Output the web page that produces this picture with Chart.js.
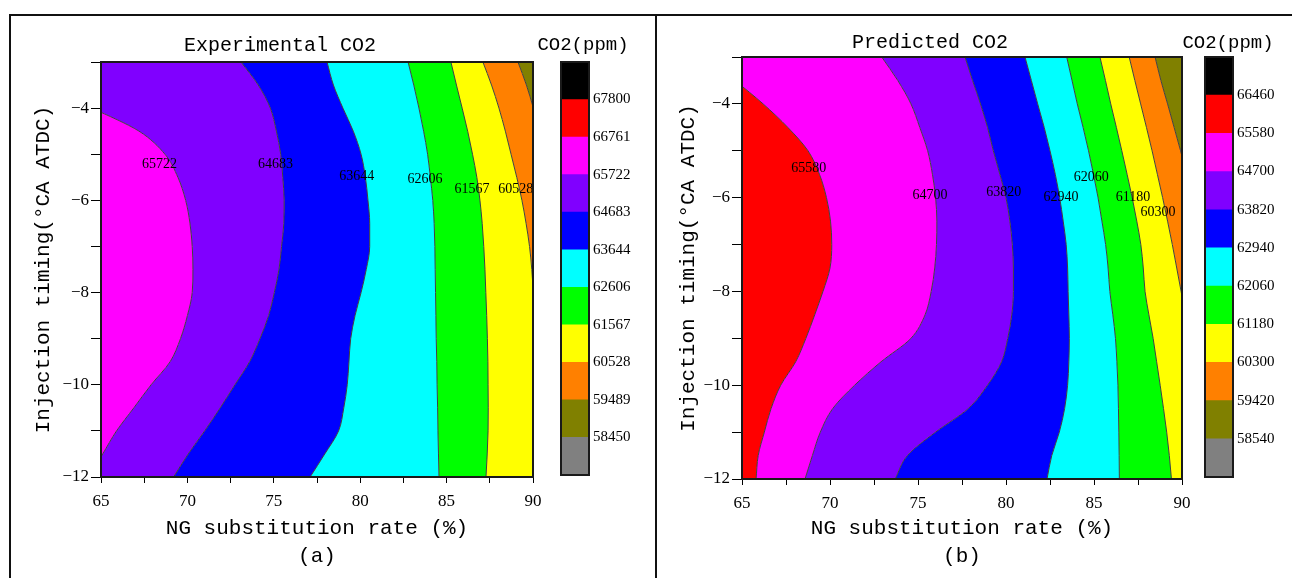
<!DOCTYPE html>
<html>
<head>
<meta charset="utf-8">
<script src="https://cdn.jsdelivr.net/npm/chart.js@4.4.0/dist/chart.umd.min.js"></script>
<style>
  body { margin: 0; background: #fff; width: 1292px; height: 578px; position: relative; overflow: hidden; }
  canvas { position: absolute; display: block; }
  .rule { position: absolute; background: #111; }
</style>
</head>
<body>
<div class="rule" style="left:9px;top:14px;width:1283px;height:2px"></div>
<div class="rule" style="left:9px;top:14px;width:2px;height:564px"></div>
<div class="rule" style="left:655px;top:14px;width:2px;height:564px"></div>
<canvas id="contourA" width="540" height="560" style="left:10px;top:16px"></canvas>
<canvas id="barA" width="120" height="472" style="left:530px;top:16px"></canvas>
<canvas id="contourB" width="546" height="560" style="left:658px;top:16px"></canvas>
<canvas id="barB" width="117" height="474" style="left:1175px;top:16px"></canvas>
<script>
// injection timing (°CA ATDC) rows where each contour line is sampled
const timing = [-3, -3.5, -4, -4.5, -5, -5.5, -6, -6.5, -7, -7.5, -8, -8.5, -9, -9.5, -10, -10.5, -11, -11.5, -12];

// colour levels of the two colour bars (ppm), bottom to top
const levelsA = [58450, 59489, 60528, 61567, 62606, 63644, 64683, 65722, 66761, 67800];
const levelsB = [58540, 59420, 60300, 61180, 62060, 62940, 63820, 64700, 65580, 66460];
const barRangeA = [57411, 68839];
const barRangeB = [57660, 67340];
const bandColors = ['#808080', '#808000', '#ff8000', '#ffff00', '#00ff00', '#00ffff',
                    '#0000ff', '#8000ff', '#ff00ff', '#ff0000', '#000000'];

// (a) experimental: NG rate (%) of each contour at each timing row
// (values below 65 or above 90 are outside the frame and get clipped)
const expC65722 = [59, 61.8, 64.5, 67.2, 68.7, 69.45, 69.9, 70.15, 70.28, 70.32, 70.28, 70.0, 69.6, 69.0, 67.9, 66.9, 65.9, 65.1, 64.3];
const expC64683 = [73.1, 74.1, 74.8, 75.15, 75.4, 75.52, 75.6, 75.58, 75.45, 75.3, 75.03, 74.7, 74.2, 73.6, 72.75, 71.9, 71.0, 70.05, 69.2];
const expC63644 = [78.08, 78.45, 79.0, 79.6, 80.05, 80.3, 80.45, 80.55, 80.55, 80.35, 80.05, 79.7, 79.45, 79.35, 79.25, 79.05, 78.75, 77.95, 77.1];
const expC62606 = [82.77, 83.1, 83.4, 83.67, 83.9, 84.06, 84.2, 84.28, 84.32, 84.34, 84.36, 84.38, 84.4, 84.43, 84.45, 84.48, 84.5, 84.53, 84.56];
const expC61567 = [85.25, 85.57, 85.9, 86.22, 86.5, 86.75, 86.93, 87.06, 87.15, 87.22, 87.27, 87.32, 87.36, 87.39, 87.4, 87.41, 87.4, 87.35, 87.28];
const expC60528 = [87.1, 87.6, 88.03, 88.4, 88.73, 89.06, 89.36, 89.6, 89.8, 89.93, 90.02, 90.12, 90.22, 90.35, 90.5, 90.65, 90.8, 90.95, 91.1];
const expC59489 = [89.13, 89.62, 90.02, 90.35, 90.65, 90.9, 91.1, 91.3, 91.5, 91.7, 91.9, 92.1, 92.3, 92.5, 92.7, 92.9, 93.1, 93.3, 93.5];
const expCurves = [expC65722, expC64683, expC63644, expC62606, expC61567, expC60528, expC59489];
const expCurveLevels = [65722, 64683, 63644, 62606, 61567, 60528, 59489];
const expLabelText = ['65722', '64683', '63644', '62606', '61567', '60528'];
const expLabelX = [68.38, 75.1, 79.8, 83.75, 86.47, 89.0];
const expLabelY = [-5.23, -5.23, -5.49, -5.55, -5.77, -5.77];

// (b) predicted
const preC65580 = [63.0, 64.6, 66.2, 67.6, 68.75, 69.4, 69.8, 70.03, 70.1, 70.0, 69.6, 69.13, 68.63, 68.05, 67.2, 66.65, 66.27, 65.92, 65.8];
const preC64700 = [72.94, 73.85, 74.6, 75.1, 75.55, 75.82, 76.0, 76.07, 76.05, 75.95, 75.75, 75.4, 74.6, 72.9, 71.4, 70.15, 69.45, 69.0, 68.58];
const preC63820 = [77.67, 78.1, 78.55, 78.95, 79.28, 79.65, 80.0, 80.22, 80.36, 80.42, 80.42, 80.33, 80.1, 79.75, 78.95, 77.85, 76.0, 74.4, 73.7];
const preC62940 = [81.08, 81.44, 81.8, 82.17, 82.5, 82.8, 83.05, 83.25, 83.42, 83.5, 83.53, 83.57, 83.6, 83.57, 83.5, 83.33, 83.03, 82.6, 82.33];
const preC62060 = [83.45, 83.75, 84.05, 84.38, 84.69, 84.97, 85.23, 85.45, 85.66, 85.8, 85.9, 86.07, 86.22, 86.3, 86.36, 86.39, 86.41, 86.43, 86.44];
const preC61180 = [85.34, 85.65, 85.95, 86.27, 86.58, 86.88, 87.17, 87.43, 87.66, 87.8, 87.9, 88.12, 88.36, 88.56, 88.76, 88.95, 89.13, 89.28, 89.4];
const preC60300 = [87.0, 87.32, 87.65, 87.98, 88.3, 88.6, 88.9, 89.18, 89.45, 89.7, 89.95, 90.18, 90.4, 90.6, 90.8, 91.0, 91.2, 91.4, 91.6];
const preC59420 = [88.47, 88.8, 89.18, 89.55, 89.92, 90.25, 90.55, 90.8, 91.05, 91.3, 91.5, 91.7, 91.9, 92.1, 92.3, 92.5, 92.7, 92.9, 93.1];
const preCurves = [preC65580, preC64700, preC63820, preC62940, preC62060, preC61180, preC60300, preC59420];
const preCurveLevels = [65580, 64700, 63820, 62940, 62060, 61180, 60300, 59420];
const preLabelText = ['65580', '64700', '63820', '62940', '62060', '61180', '60300'];
const preLabelX = [68.79, 75.68, 79.87, 83.12, 84.85, 87.22, 88.64];
const preLabelY = [-5.38, -5.94, -5.89, -5.99, -5.57, -5.99, -6.31];

const ngRange = [65, 90];
const timingRange = [-12, -3];

Chart.defaults.font.family = '"Liberation Serif", serif';
Chart.defaults.color = '#000';

const monoFont = (size, lineHeight) => ({ family: '"Liberation Mono", monospace', size, lineHeight });

// values printed along the contour lines
const contourLabels = {
  id: "contourLabels",
  afterDatasetsDraw(chart, args, opts) {
    const { ctx, scales } = chart;
    ctx.save();
    ctx.font = '14px "Liberation Serif"';
    ctx.fillStyle = "#000";
    ctx.textAlign = "center";
    ctx.textBaseline = "middle";
    opts.text.forEach((t, i) => {
      ctx.fillText(t, scales.x.getPixelForValue(opts.x[i]), scales.y.getPixelForValue(opts.y[i]));
    });
    ctx.restore();
  },
};

// frame round the plot area + panel title
const panelDecor = {
  id: "panelDecor",
  afterDraw(chart, args, opts) {
    const { ctx, chartArea: a } = chart;
    ctx.save();
    ctx.strokeStyle = "#1a1a1a";
    ctx.lineWidth = 2;
    ctx.strokeRect(a.left, a.top, a.right - a.left, a.bottom - a.top);
    ctx.font = opts.size + 'px "Liberation Mono"';
    ctx.fillStyle = "#000";
    ctx.textAlign = "center";
    ctx.textBaseline = "middle";
    ctx.fillText(opts.title, opts.x, opts.y);
    ctx.restore();
  },
};

function contourChart(id, cfg) {
  const points = (xs) => xs.map((x, i) => ({ x, y: timing[i] }));
  const datasets = cfg.curves.map((xs, i) => ({
    data: points(xs),
    fill: i === 0 ? { value: ngRange[0] } : "-1",
    backgroundColor: bandColors[cfg.levels.indexOf(cfg.curveLevels[i]) + 1],
    borderColor: "#404040",
    borderWidth: 1,
  }));
  const last = cfg.curves.length - 1;
  // band to the right of the last contour
  datasets.push({
    data: points(cfg.curves[last]),
    fill: { value: ngRange[1] },
    backgroundColor: bandColors[cfg.levels.indexOf(cfg.curveLevels[last])],
    borderWidth: 0,
  });

  return new Chart(id, {
    type: "line",
    data: { datasets },
    options: {
      responsive: false,
      animation: false,
      indexAxis: "y",
      layout: { padding: cfg.padding },
      elements: {
        point: { radius: 0 },
        line: { cubicInterpolationMode: "monotone", capBezierPoints: false },
      },
      plugins: {
        legend: { display: false },
        tooltip: { enabled: false },
        filler: { drawTime: "beforeDatasetsDraw" },
        contourLabels: { text: cfg.labelText, x: cfg.labelX, y: cfg.labelY },
        panelDecor: { title: cfg.title, x: cfg.titleX, y: cfg.titleY, size: 20 },
      },
      scales: {
        x: {
          type: "linear",
          min: ngRange[0],
          max: ngRange[1],
          ticks: {
            stepSize: 2.5,
            autoSkip: false,
            maxRotation: 0,
            padding: 8,
            font: { size: 17 },
            callback: (v) => (v % 5 === 0 ? v : ""),
          },
          grid: { drawOnChartArea: false, tickLength: 6, color: "#000" },
          border: { display: false },
          title: {
            display: true,
            text: ["NG substitution rate (%)", cfg.tag],
            font: monoFont(21, 1.35),
            padding: { top: 0, bottom: 5 },
          },
          afterFit: (s) => { s.height = cfg.xAxisHeight; },
        },
        y: {
          type: "linear",
          min: timingRange[0],
          max: timingRange[1],
          ticks: {
            stepSize: 1,
            autoSkip: false,
            padding: 2,
            font: { size: 17 },
            callback: (v) => (v % 2 === 0 ? "\u2212" + Math.abs(v) : ""),
          },
          grid: { drawOnChartArea: false, tickLength: 10, color: "#000" },
          border: { display: false },
          title: {
            display: true,
            text: "Injection timing(°CA ATDC)",
            font: monoFont(21, 1.2),
            padding: { top: cfg.yTitlePad, bottom: 0 },
          },
          afterFit: (s) => { s.width = cfg.yAxisWidth; },
        },
      },
    },
    plugins: [contourLabels, panelDecor],
  });
}

function colorBar(id, levels, range, cfg) {
  const edges = [range[0], ...levels, range[1]];
  return new Chart(id, {
    type: "bar",
    data: {
      labels: ["CO2"],
      datasets: bandColors.map((c, i) => ({
        data: [[edges[i], edges[i + 1]]],
        backgroundColor: c,
        grouped: false,
        barPercentage: 1,
        categoryPercentage: 1,
        borderWidth: 0,
      })),
    },
    options: {
      responsive: false,
      animation: false,
      layout: { padding: cfg.padding },
      plugins: {
        legend: { display: false },
        tooltip: { enabled: false },
        panelDecor: { title: "CO2(ppm)", x: cfg.titleX, y: cfg.titleY, size: 19 },
      },
      scales: {
        x: { display: false },
        y: {
          position: "right",
          min: range[0],
          max: range[1],
          afterBuildTicks: (s) => { s.ticks = levels.map((v) => ({ value: v })); },
          ticks: { padding: 4, font: { size: 15 }, callback: (v) => String(v) },
          grid: { display: false, drawTicks: false },
          border: { display: false },
          afterFit: (s) => { s.width = cfg.axisWidth; },
        },
      },
    },
    plugins: [panelDecor],
  });
}

contourChart("contourA", {
  levels: levelsA,
  curves: expCurves,
  curveLevels: expCurveLevels,
  labelText: expLabelText,
  labelX: expLabelX,
  labelY: expLabelY,
  title: "Experimental CO2",
  titleX: 270,
  titleY: 30,
  tag: "(a)",
  padding: { top: 46, right: 17, bottom: 0, left: 0 },
  xAxisHeight: 99,
  yAxisWidth: 91,
  yTitlePad: 21,
});

contourChart("contourB", {
  levels: levelsB,
  curves: preCurves,
  curveLevels: preCurveLevels,
  labelText: preLabelText,
  labelX: preLabelX,
  labelY: preLabelY,
  title: "Predicted CO2",
  titleX: 272,
  titleY: 27,
  tag: "(b)",
  padding: { top: 41, right: 22, bottom: 0, left: 0 },
  xAxisHeight: 97,
  yAxisWidth: 84,
  yTitlePad: 18,
});

colorBar("barA", levelsA, barRangeA, {
  padding: { top: 46, left: 31, bottom: 10, right: 0 },
  axisWidth: 61,
  titleX: 53,
  titleY: 29,
});

colorBar("barB", levelsB, barRangeB, {
  padding: { top: 41, left: 30, bottom: 10, right: 0 },
  axisWidth: 59,
  titleX: 53,
  titleY: 27,
});
</script>
</body>
</html>
